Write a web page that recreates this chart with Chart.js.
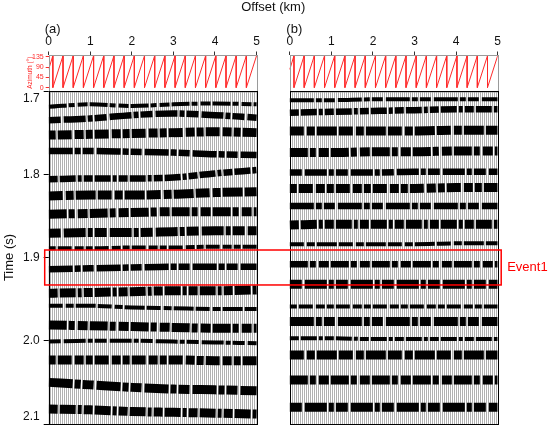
<!DOCTYPE html>
<html lang="en">
<head>
<meta charset="utf-8">
<title>Offset gathers (a) and (b)</title>
<script src="https://cdn.jsdelivr.net/npm/chart.js@4.4.1/dist/chart.umd.min.js"></script>
<style>
  html, body { margin: 0; padding: 0; background: #fff; }
  #wrap { position: relative; width: 550px; height: 429px; }
</style>
</head>
<body>
<div id="wrap"><canvas id="gather"></canvas></div>
<script>
// offsets (km) at which the event times were read
var offsetsKm = [0, 1, 2, 3, 4, 5];

// panel (a): time (s) of each black event at offsetsKm, top to bottom
var eventsA = [
  [1.719, 1.716, 1.718, 1.716, 1.715, 1.716],
  [1.735, 1.733, 1.729, 1.727, 1.729, 1.732],
  [1.753, 1.752, 1.751, 1.750, 1.749, 1.750],
  [1.772, 1.772, 1.773, 1.774, 1.776, 1.777],
  [1.806, 1.805, 1.805, 1.804, 1.799, 1.795],
  [1.826, 1.825, 1.825, 1.824, 1.822, 1.821],
  [1.848, 1.847, 1.846, 1.845, 1.845, 1.845],
  [1.871, 1.870, 1.870, 1.869, 1.868, 1.868],
  [1.889, 1.889, 1.888, 1.888, 1.887, 1.887],
  [1.914, 1.913, 1.912, 1.911, 1.911, 1.911],
  [1.943, 1.942, 1.941, 1.940, 1.940, 1.939],
  [1.958, 1.958, 1.960, 1.961, 1.962, 1.962],
  [1.981, 1.982, 1.983, 1.984, 1.985, 1.985],
  [2.001, 2.000, 2.000, 2.001, 2.002, 2.003],
  [2.023, 2.023, 2.023, 2.023, 2.024, 2.024],
  [2.050, 2.053, 2.056, 2.058, 2.059, 2.060],
  [2.082, 2.083, 2.085, 2.086, 2.087, 2.088]
];
// 1 weak, 2 medium, 3 strong
var strengthA = [1, 2, 3, 2, 2, 3, 3, 3, 1, 2, 3, 1, 3, 1, 3, 3, 3];

// panel (b)
var eventsB = [
  [1.711, 1.711, 1.710, 1.710, 1.710, 1.710],
  [1.726, 1.725, 1.724, 1.723, 1.722, 1.722],
  [1.748, 1.748, 1.748, 1.748, 1.747, 1.747],
  [1.774, 1.774, 1.773, 1.773, 1.772, 1.772],
  [1.798, 1.798, 1.798, 1.797, 1.797, 1.797],
  [1.817, 1.817, 1.817, 1.817, 1.816, 1.816],
  [1.838, 1.838, 1.838, 1.838, 1.838, 1.838],
  [1.861, 1.860, 1.860, 1.860, 1.860, 1.860],
  [1.884, 1.884, 1.884, 1.884, 1.883, 1.883],
  [1.908, 1.908, 1.908, 1.908, 1.908, 1.908],
  [1.932, 1.932, 1.932, 1.932, 1.932, 1.932],
  [1.959, 1.959, 1.959, 1.959, 1.959, 1.959],
  [1.977, 1.977, 1.977, 1.977, 1.977, 1.977],
  [1.997, 1.997, 1.998, 1.998, 1.998, 1.998],
  [2.017, 2.017, 2.017, 2.017, 2.017, 2.017],
  [2.047, 2.047, 2.047, 2.047, 2.047, 2.047],
  [2.080, 2.080, 2.080, 2.080, 2.080, 2.080]
];
var strengthB = [1, 2, 3, 3, 2, 3, 2, 3, 1, 2, 3, 1, 3, 1, 3, 3, 3];

// azimuth sawtooth over offset (same for both panels)
var azOffsets = [0, 0.10, 0.10, 0.345, 0.345, 0.59, 0.59, 0.835, 0.835, 1.08, 1.08,
  1.325, 1.325, 1.57, 1.57, 1.815, 1.815, 2.06, 2.06, 2.305, 2.305, 2.55, 2.55,
  2.795, 2.795, 3.04, 3.04, 3.285, 3.285, 3.53, 3.53, 3.775, 3.775, 4.02, 4.02,
  4.265, 4.265, 4.51, 4.51, 4.755, 4.755, 5.0];
var azDeg = [80, 140, 0, 140, 0, 140, 0, 140, 0, 140, 0,
  140, 0, 140, 0, 140, 0, 140, 0, 140, 0, 140, 0,
  140, 0, 140, 0, 140, 0, 140, 0, 140, 0, 140, 0,
  140, 0, 140, 0, 140, 0, 140];

var offsetTicks = [0, 1, 2, 3, 4, 5];
var timeTicks = [1.7, 1.8, 1.9, 2.0, 2.1];
var azTicks = [0, 45, 90, 135];
var event1Window = [1.891, 1.933];

// panel (b) is drawn shifted right on the shared offset axis
var GAP = 5.8;
var FONT = "'Liberation Sans', Arial, sans-serif";
var RED = '#ff2a2a';

Chart.defaults.font.family = FONT;

var dashes = [[18, 2, 6, 3, 10, 2], [12, 3, 22, 2, 5, 2], [7, 2, 14, 3, 9, 2], [24, 2, 6, 2, 11, 3], [9, 2, 16, 2, 4, 2], [14, 3, 8, 2, 20, 2]];
var widths = [0, 4, 6.5, 9];

function eventSets(rows, strength, shift) {
  return rows.map(function (times, i) {
    return {
      type: 'line',
      yAxisID: 'y',
      data: offsetsKm.map(function (o, j) { return { x: o + shift, y: times[j] }; }),
      borderColor: '#000',
      borderWidth: widths[strength[i]],
      borderDash: dashes[(i + (shift ? 3 : 0)) % dashes.length],
      borderCapStyle: 'butt',
      pointRadius: 0,
      cubicInterpolationMode: 'monotone',
      fill: false
    };
  });
}

function azSet(shift) {
  return {
    type: 'line',
    yAxisID: 'az',
    data: azOffsets.map(function (o, j) { return { x: o + shift, y: azDeg[j] }; }),
    borderColor: RED,
    borderWidth: 1,
    pointRadius: 0,
    tension: 0,
    fill: false
  };
}

var tracePattern = null;
function getPattern(ctx) {
  if (tracePattern) return tracePattern;
  var c = document.createElement('canvas');
  c.width = 2; c.height = 4;
  var p = c.getContext('2d');
  p.fillStyle = '#fff';
  p.fillRect(0, 0, 2, 4);
  p.fillStyle = '#b0b0b0';
  p.fillRect(0, 0, 1, 4);
  tracePattern = ctx.createPattern(c, 'repeat');
  return tracePattern;
}

function noPadding(s) {
  s.paddingTop = 0; s.paddingBottom = 0; s.paddingLeft = 0; s.paddingRight = 0;
}

var panelDecor = {
  id: 'panelDecor',
  beforeDatasetsDraw: function (chart) {
    var ctx = chart.ctx, x = chart.scales.x, y = chart.scales.y;
    ctx.save();
    ctx.fillStyle = getPattern(ctx);
    [0, GAP].forEach(function (s) {
      var l = x.getPixelForValue(s), r = x.getPixelForValue(s + 5);
      ctx.fillRect(l, y.top, r - l, y.bottom - y.top);
    });
    ctx.restore();
  },
  afterDatasetsDraw: function (chart) {
    var ctx = chart.ctx, x = chart.scales.x, y = chart.scales.y, az = chart.scales.az;
    ctx.save();
    [0, GAP].forEach(function (s) {
      var l = Math.round(x.getPixelForValue(s)) + 0.5, r = Math.round(x.getPixelForValue(s + 5)) + 0.5;
      ctx.lineWidth = 1;
      ctx.strokeStyle = '#9a9a9a';
      ctx.strokeRect(l, Math.round(az.top) + 0.5, r - l, az.bottom - az.top);
      ctx.strokeStyle = '#000';
      ctx.strokeRect(l, Math.round(y.top) + 0.5, r - l, Math.round(y.bottom - y.top));
    });

    // Event1 window across both panels
    var bl = x.getPixelForValue(0) - 4, br = x.getPixelForValue(GAP + 5) + 3.5;
    var bt = y.getPixelForValue(event1Window[0]), bb = y.getPixelForValue(event1Window[1]);
    ctx.strokeStyle = '#ff0000';
    ctx.lineWidth = 1.5;
    ctx.strokeRect(bl, bt, br - bl, bb - bt);
    ctx.fillStyle = '#ff0000';
    ctx.font = '13px ' + FONT;
    ctx.textAlign = 'left';
    ctx.textBaseline = 'middle';
    ctx.fillText('Event1', br + 6, (bt + bb) / 2);

    // panel letters
    ctx.fillStyle = '#111';
    ctx.fillText('(a)', x.getPixelForValue(0) - 4, 29);
    ctx.fillText('(b)', x.getPixelForValue(GAP) - 3.5, 29);
    ctx.restore();
  }
};

var datasets = [azSet(0), azSet(GAP)]
  .concat(eventSets(eventsA, strengthA, 0))
  .concat(eventSets(eventsB, strengthB, GAP));

new Chart(document.getElementById('gather'), {
  type: 'line',
  data: { datasets: datasets },
  plugins: [panelDecor],
  options: {
    responsive: true,
    maintainAspectRatio: false,
    animation: false,
    layout: { padding: { left: 0, right: 52.3, top: 0, bottom: 5 } },
    plugins: { legend: { display: false }, tooltip: { enabled: false } },
    scales: {
      x: {
        type: 'linear',
        position: 'top',
        min: 0,
        max: GAP + 5,
        afterBuildTicks: function (s) {
          s.ticks = offsetTicks.map(function (v) { return { value: v }; })
            .concat(offsetTicks.map(function (v) { return { value: v + GAP }; }));
        },
        afterFit: function (s) { s.height = 54.5; noPadding(s); },
        ticks: {
          autoSkip: false,
          maxRotation: 0,
          padding: 3,
          color: '#111',
          font: { size: 12 },
          callback: function (v) { return String(Math.round(v >= GAP - 0.01 ? v - GAP : v)); }
        },
        grid: { drawOnChartArea: false, tickLength: 3, color: '#333' },
        border: { display: false },
        title: { display: true, text: 'Offset (km)', color: '#111', font: { size: 13 }, padding: { top: 0, bottom: 0 } }
      },
      y: {
        type: 'linear',
        position: 'left',
        stack: 'left',
        stackWeight: 333,
        weight: 0,
        reverse: true,
        min: 1.7,
        max: 2.1,
        afterBuildTicks: function (s) {
          s.ticks = timeTicks.map(function (v) { return { value: v }; });
        },
        afterFit: function (s) { s.width = 48.7; noPadding(s); },
        ticks: {
          autoSkip: false,
          padding: 4,
          color: '#111',
          font: { size: 12 },
          callback: function (v, i, all) {
            var t = v.toFixed(1);
            if (i === 0) return ['', t];
            if (i === all.length - 1) return [t, ''];
            return t;
          }
        },
        grid: { drawOnChartArea: false, tickLength: 5, color: '#000' },
        border: { display: false },
        title: { display: true, text: 'Time (s)', color: '#111', font: { size: 13 }, padding: { top: 2, bottom: 0 } }
      },
      az: {
        type: 'linear',
        position: 'left',
        stack: 'left',
        stackWeight: 36.5,
        weight: 1,
        min: -15,
        max: 145,
        afterBuildTicks: function (s) {
          s.ticks = azTicks.map(function (v) { return { value: v }; });
        },
        afterFit: function (s) { s.width = 48.7; noPadding(s); },
        ticks: { autoSkip: false, padding: 2, color: RED, font: { size: 7 } },
        grid: { drawOnChartArea: false, tickLength: 3, color: RED },
        border: { display: false },
        title: { display: true, text: 'Azimuth (°)', color: RED, font: { size: 6.5 }, padding: { top: 26, bottom: 0 } }
      }
    }
  }
});
</script>
</body>
</html>
